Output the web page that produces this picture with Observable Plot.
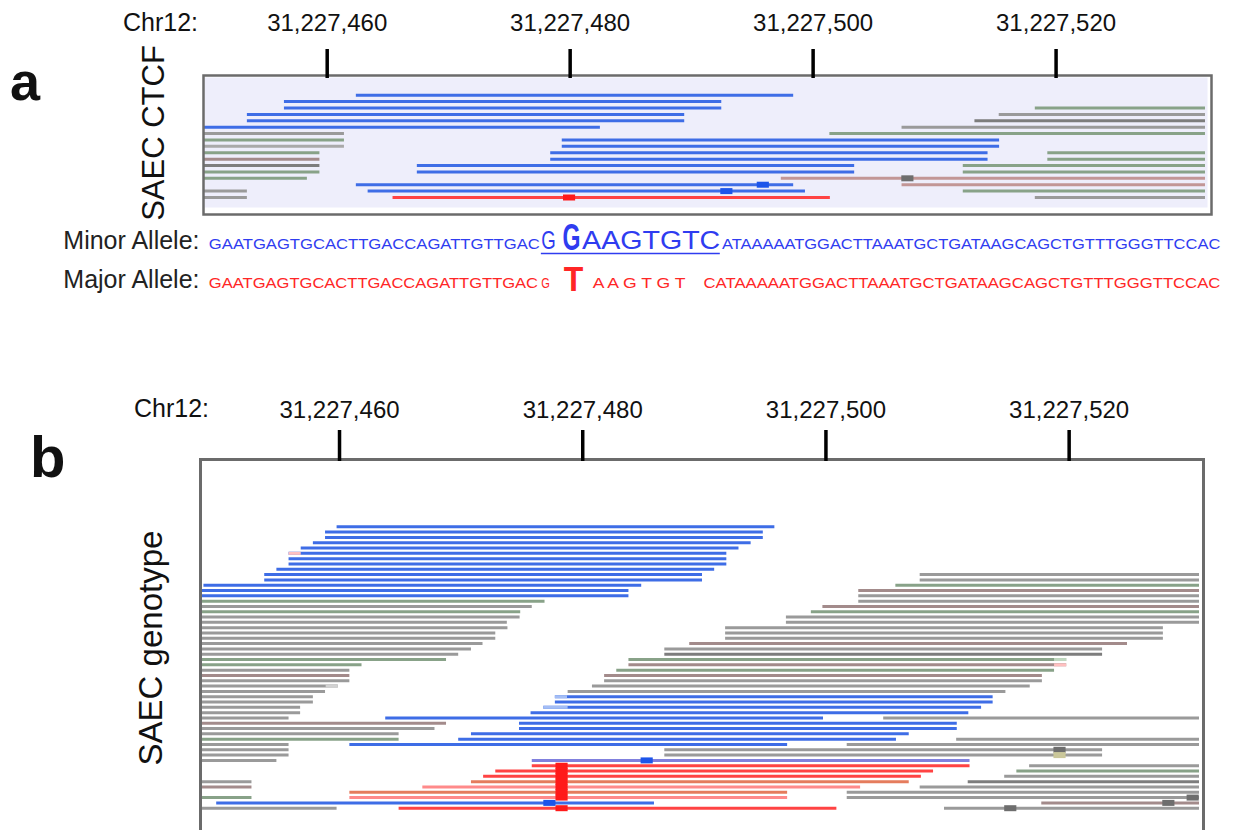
<!DOCTYPE html>
<html><head><meta charset="utf-8">
<script src="https://cdn.jsdelivr.net/npm/d3@7"></script>
<script src="https://cdn.jsdelivr.net/npm/@observablehq/plot@0.6"></script>
<style>
html,body{margin:0;padding:0;background:#fff;overflow:hidden;}
#fig{position:relative;width:1237px;height:830px;overflow:hidden;font-family:"Liberation Sans",Arial,sans-serif;color:#111;}
.lbl{position:absolute;white-space:nowrap;line-height:1;}
.rot{position:absolute;white-space:nowrap;line-height:1;transform:translate(-50%,-50%) rotate(-90deg);}
</style></head><body><div id="fig"></div>
<script>
// ---------------- data ----------------
const BASE = 31227000;                 // genomic offset of all positions below
const CHROM = "Chr12:";
const tickPositions = [31227460, 31227480, 31227500, 31227520];
const READ_LEN = 36;                   // read length (bp)
const viewA = [449.9, 532.3];          // visible window, panel a (offset bp)
const viewB = [448.65, 530.72];        // visible window, panel b (offset bp)
const panelLetters = ["a", "b"];
const trackNames = ["SAEC CTCF", "SAEC genotype"];

// reads: [row, start offset (bp), colour key]
const readsA = [
  [0,462.4,"blue"],
  [1,456.48,"blue"],
  [2,456.48,"blue"],[2,518.29,"green"],
  [3,453.43,"blue"],[3,515.32,"gray"],
  [4,453.43,"blue"],[4,513.32,"dark"],
  [5,446.49,"blue"],[5,507.32,"gray"],
  [6,425.42,"gray"],[6,501.38,"green"],
  [7,425.42,"green"],[7,479.35,"blue"],
  [8,425.42,"lgray"],[8,479.35,"blue"],
  [9,423.4,"green"],[9,478.4,"blue"],[9,519.32,"green"],
  [10,423.4,"brown"],[10,478.4,"blue"],[10,519.32,"green"],
  [11,423.4,"dark"],[11,467.42,"blue"],[11,512.36,"green"],
  [12,423.4,"green"],[12,467.42,"blue"],[12,512.36,"green"],
  [13,422.37,"green"],[13,497.38,"rose"],
  [14,462.4,"blue"],[14,507.32,"rose"],
  [15,417.43,"gray"],[15,463.37,"blue"],[15,512.36,"green"],
  [16,417.43,"gray"],[16,465.42,"red"],[16,518.29,"gray"]
];
// mismatch marks: [row, start offset, length (bp), colour key]
const basesA = [[13,507.3,1,"grayMark"],[14,495.4,1,"blueMark"],[15,492.4,1,"blueMark"],[16,479.45,1,"redMark"]];

const readsB = [
  [0,459.8,"blue"],[1,458.85,"blue"],[2,458.85,"blue"],[3,457.85,"blue"],[4,456.85,"blue"],
  [5,455.85,"blue"],[6,455.85,"blue"],[7,455.85,"blue"],[8,454.85,"blue"],
  [9,453.85,"blue"],[9,507.75,"gray"],
  [10,453.85,"blue"],[10,507.75,"gray"],
  [11,448.85,"blue"],[11,505.75,"green"],
  [12,447.8,"blue"],[12,502.7,"brown"],
  [13,447.8,"blue"],[13,502.7,"gray"],
  [14,440.9,"green"],[14,502.7,"gray"],
  [15,439.85,"gray"],[15,499.75,"brown"],
  [16,438.9,"green"],[16,498.8,"green"],
  [17,438.85,"gray"],[17,496.75,"gray"],
  [18,437.8,"gray"],[18,496.75,"gray"],
  [19,437.85,"gray"],[19,491.75,"gray"],
  [20,436.85,"gray"],[20,491.75,"gray"],
  [21,436.85,"gray"],[21,491.75,"gray"],
  [22,435.8,"gray"],[22,488.8,"brown"],
  [23,434.85,"gray"],[23,486.75,"gray"],
  [24,433.8,"gray"],[24,486.75,"dark"],
  [25,432.8,"green"],[25,483.8,"green"],
  [26,425.85,"green"],[26,483.8,"brown"],
  [27,424.85,"gray"],[27,482.8,"green"],
  [28,424.85,"brown"],[28,481.8,"brown"],
  [29,424.85,"gray"],[29,481.8,"gray"],
  [30,423.9,"gray"],[30,480.8,"gray"],
  [31,422.85,"gray"],[31,478.8,"gray"],
  [32,421.85,"gray"],[32,477.75,"blue"],
  [33,421.85,"gray"],[33,477.75,"blue"],
  [34,420.8,"gray"],[34,476.8,"blue"],
  [35,420.8,"gray"],[35,475.75,"blue"],
  [36,419.85,"gray"],[36,463.8,"blue"],[36,504.75,"gray"],
  [37,432.8,"brown"],[37,474.8,"blue"],
  [38,431.85,"gray"],[38,474.8,"blue"],
  [39,428.9,"gray"],[39,470.85,"blue"],
  [40,428.9,"green"],[40,469.8,"blue"],[40,510.75,"gray"],
  [41,419.85,"gray"],[41,460.85,"blue"],[41,501.75,"gray"],
  [42,419.85,"gray"],[42,486.75,"gray"],
  [43,419.85,"gray"],[43,486.75,"gray"],
  [44,418.85,"gray"],[44,475.85,"lav"],
  [45,475.85,"red"],[45,516.75,"gray"],
  [46,472.85,"red"],[46,515.7,"green"],
  [47,471.85,"red"],[47,514.7,"gray"],
  [48,416.8,"gray"],[48,470.85,"orange"],[48,511.7,"dark"],
  [49,416.8,"brown"],[49,466.85,"pink"],[49,507.75,"gray"],
  [50,460.85,"orange"],[50,501.75,"gray"],
  [51,416.8,"green"],[51,460.85,"pink"],[51,501.75,"gray"],
  [52,449.9,"blue"],[52,517.75,"brown"],
  [53,423.8,"gray"],[53,464.9,"red"],[53,509.75,"gray"]
];
const basesB = [
  [42,518.75,1,"grayMark"],[43,518.75,1,"yellowMark"],[44,484.8,1,"blueMark"],
  [45,477.8,1,"redMark"],[46,477.8,1,"redMark"],[47,477.8,1,"redMark"],[48,477.8,1,"redMark"],
  [49,477.8,1,"redMark"],[50,477.8,1,"redMark"],[51,477.8,1,"redMark"],[53,477.8,1,"redMark"],
  [51,529.7,1,"grayMark"],[52,476.8,1,"blueMark"],[52,527.7,1,"grayMark"],[53,514.7,1,"grayMark"]
];
// faint (soft-clipped) bases: [row, start offset, length, colour key]
const softB = [[5,455.85,1,"pinkSoft"],[25,518.8,1,"greenSoft"],[26,518.8,1,"pinkSoft"],[30,458.9,1,"graySoft"],[32,477.75,1,"blueSoft"],[34,476.8,2,"blueSoft"]];

// allele sequences: [text, start offset, end offset, kind]
const alleleRows = ["Minor Allele:", "Major Allele:"];
const minorSeq = [
  ["GAATGAGTGCACTTGACCAGATTGTTGAC",450.26,477.5,"flank"],
  ["G",477.63,478.82,"motif"],
  ["G",479.36,480.84,"snp"],
  ["AAGTGTC",480.98,492.36,"motif"],
  ["ATAAAAATGGACTTAAATGCTGATAAGCAGCTGTTTGGGTTCCAC",492.49,533.52,"flank"]
];
const majorSeq = [
  ["GAATGAGTGCACTTGACCAGATTGTTGAC",450.26,477.36,"flank"],
  ["G",477.63,478.34,"flank"],
  ["T",479.48,481.09,"snp"],
  ["A A G T G T",481.85,489.5,"flank"],
  ["CATAAAAATGGACTTAAATGCTGATAAGCAGCTGTTTGGGTTCCAC",490.98,533.52,"flank"]
];
const motifUnderline = [477.63, 492.36];

// ---------------- styles ----------------
const palette = {
  blue:"#3e6de6", gray:"#9a9a9a", lgray:"#a9a9a9", green:"#88a288", brown:"#a38b8b", dark:"#7d7d7d",
  rose:"#c29696", red:"#ff4343", orange:"#e57c5d", pink:"#ff8a8a", lav:"#8080de",
  blueMark:"#1d55ea", redMark:"#ff1a1a", grayMark:"#6e6e6e", yellowMark:"#cac79a",
  pinkSoft:"#ffc0c0", greenSoft:"#c0d8c0", graySoft:"#d2d2d2", blueSoft:"#a3bdf5"
};
const seqColor = {"Minor Allele:":"#2f3cf0", "Major Allele:":"#ff2626"};
const FONT = "'Liberation Sans', Arial, sans-serif";
const fmt = d3.format(",");

const toRows = (list) => list.map(([row, s, c]) => ({row, x1: BASE + s, x2: BASE + s + READ_LEN, color: palette[c]}));
const toBases = (list) => list.map(([row, s, len, c]) => ({row, x1: BASE + s, x2: BASE + s + len, color: palette[c]}));
const toSeq = (list, row) => list.map(([text, s, e, kind]) => ({row, text, x1: BASE + s, x2: BASE + e, kind, color: seqColor[row]}));

const fig = document.getElementById("fig");
function place(el, top) { el.style.position = "absolute"; el.style.left = "0px"; el.style.top = top + "px"; fig.appendChild(el); }

// ---------------- panel a ----------------
const plotA = Plot.plot({
  width: 1237, height: 220, marginTop: 77, marginBottom: 13, marginLeft: 204, marginRight: 32,
  x: {domain: [BASE + viewA[0], BASE + viewA[1]], label: null},
  y: {domain: [0, 16], range: [94.7, 197], axis: null},
  color: {type: "identity"},
  style: {fontFamily: FONT, fontSize: "24px", color: "#111", background: "transparent", overflow: "visible"},
  marks: [
    Plot.frame({fill: "#eeeefb", stroke: "none", insetRight: -2}),
    Plot.ruleY(toRows(readsA), {y: "row", x1: "x1", x2: "x2", stroke: "color", strokeWidth: 3, clip: true}),
    Plot.ruleY(toBases(basesA), {y: "row", x1: "x1", x2: "x2", stroke: "color", strokeWidth: 6, clip: true}),
    Plot.frame({stroke: "#6b6b6b", strokeWidth: 2.5, insetTop: -2, insetLeft: -1, insetRight: -6, insetBottom: -7}),
    Plot.axisX({anchor: "top", ticks: tickPositions, tickFormat: fmt, tickSize: 29, tickPadding: 18, strokeWidth: 3.5, stroke: "#000", fill: "#111", fontSize: 24, label: null})
  ]
});
place(plotA, 0);

// ---------------- allele sequences ----------------
const segs = [...toSeq(minorSeq, alleleRows[0]), ...toSeq(majorSeq, alleleRows[1])];
const textSpecs = [
  [segs.filter(d => d.kind === "flank"), {fontSize: 15, dy: 0}, "stretch"],
  [segs.filter(d => d.kind === "motif"), {fontSize: 25, dy: 0}, "stretch"],
  [segs.filter(d => d.kind === "snp" && d.row === alleleRows[0]), {fontSize: 36, fontWeight: "bold", dy: 1}, "scale"],
  [segs.filter(d => d.kind === "snp" && d.row === alleleRows[1]), {fontSize: 36, fontWeight: "bold", dy: 3}, "scale"]
];
const plotS = Plot.plot({
  width: 1237, height: 85, marginTop: 0, marginBottom: 0, marginLeft: 204, marginRight: 32,
  x: {domain: [BASE + viewA[0], BASE + viewA[1]], axis: null},
  y: {type: "point", domain: alleleRows, range: [33, 72], padding: 0, axis: null},
  color: {type: "identity"},
  style: {fontFamily: FONT, fontSize: "14px", color: "#111", background: "transparent", overflow: "visible"},
  marks: [
    Plot.axisY({anchor: "left", tickSize: 0, tickPadding: 5, fontSize: 25, lineAnchor: "bottom", fill: "#222", label: null}),
    ...textSpecs.map(([data, opts]) => Plot.text(data, {x: "x1", y: "row", text: "text", fill: "color", textAnchor: "start", lineAnchor: "bottom", ...opts})),
    Plot.ruleY([{row: alleleRows[0], x1: BASE + motifUnderline[0], x2: BASE + motifUnderline[1]}], {y: "row", x1: "x1", x2: "x2", dy: 5, stroke: seqColor[alleleRows[0]], strokeWidth: 1.5})
  ]
});
place(plotS, 215);
{
  const xs = plotS.scale("x");
  const groups = plotS.querySelectorAll('g[aria-label="text"]');
  groups.forEach((g, gi) => {
    const spec = textSpecs[gi];
    if (!spec) return;
    const [list, , mode] = spec;
    g.querySelectorAll("text").forEach((t, i) => {
      const d = list[i];
      if (!d) return;
      const w = xs.apply(d.x2) - xs.apply(d.x1);
      if (mode === "stretch") {
        t.setAttribute("textLength", w.toFixed(1));
        t.setAttribute("lengthAdjust", "spacingAndGlyphs");
      } else {
        const natural = t.getComputedTextLength();
        if (natural > 0) {
          const tr = t.getAttribute("transform") || "";
          t.setAttribute("transform", tr + ` scale(${(w / natural).toFixed(3)},1)`);
        }
      }
    });
  });
}

// ---------------- panel b ----------------
const plotB = Plot.plot({
  width: 1237, height: 470, marginTop: 80, marginBottom: 10, marginLeft: 201, marginRight: 38,
  x: {domain: [BASE + viewB[0], BASE + viewB[1]], label: null},
  y: {domain: [0, 53], range: [146.3, 427.7], axis: null},
  color: {type: "identity"},
  style: {fontFamily: FONT, fontSize: "24px", color: "#111", background: "transparent", overflow: "visible"},
  marks: [
    Plot.ruleY(toRows(readsB), {y: "row", x1: "x1", x2: "x2", stroke: "color", strokeWidth: 3, clip: true}),
    Plot.ruleY(toBases(softB), {y: "row", x1: "x1", x2: "x2", stroke: "color", strokeWidth: 3, clip: true}),
    Plot.ruleY(toBases(basesB), {y: "row", x1: "x1", x2: "x2", stroke: "color", strokeWidth: 6, clip: true}),
    Plot.frame({stroke: "#6b6b6b", strokeWidth: 3, insetTop: -1, insetLeft: -1, insetRight: -4, insetBottom: 0}),
    Plot.axisX({anchor: "top", ticks: tickPositions, tickFormat: fmt, tickSize: 31, tickPadding: 12, strokeWidth: 3.5, stroke: "#000", fill: "#111", fontSize: 24, label: null})
  ]
});
place(plotB, 380);

// ---------------- labels ----------------
function label(text, left, baseline, size, weight) {
  const d = document.createElement("div");
  d.className = "lbl";
  d.textContent = text;
  d.style.fontSize = size + "px";
  d.style.fontWeight = weight || "normal";
  d.style.left = left + "px";
  d.style.top = (baseline - 0.85 * size) + "px";
  fig.appendChild(d);
}
function rotLabel(text, cx, cy, size) {
  const d = document.createElement("div");
  d.className = "rot";
  d.textContent = text;
  d.style.fontSize = size + "px";
  d.style.left = cx + "px";
  d.style.top = cy + "px";
  fig.appendChild(d);
}
label(panelLetters[0], 10, 100, 54, "bold");
label(panelLetters[1], 30, 477, 58, "bold");
label(CHROM, 123, 31, 25);
label(CHROM, 134, 417, 25);
rotLabel(trackNames[0], 153, 133, 31);
rotLabel(trackNames[1], 150, 648, 33);
</script></body></html>
